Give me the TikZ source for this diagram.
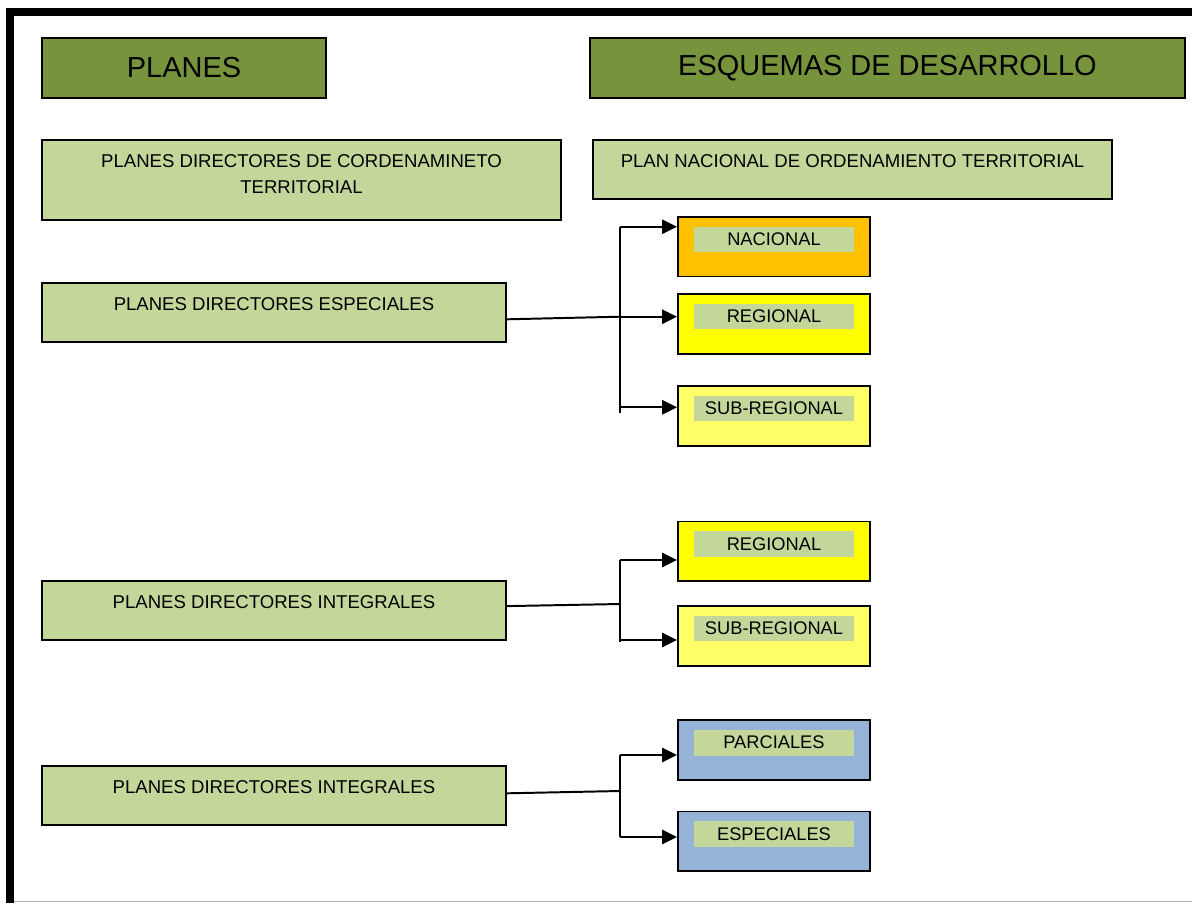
\documentclass[tikz,border=0pt]{standalone}
\usepackage[]{color}
\usepackage{fontspec}
\setmainfont{Liberation Sans}
\usepackage{tikz}
\usetikzlibrary{positioning,arrows.meta}
\definecolor{hdrgreen}{HTML}{77933C}
\definecolor{boxgreen}{HTML}{C4D79B}
\definecolor{naranja}{HTML}{FFC000}
\definecolor{amarillo}{HTML}{FFFF00}
\definecolor{amarillop}{HTML}{FFFF66}
\definecolor{azul}{HTML}{95B3D7}

\begin{document}
\begin{tikzpicture}[x=0.025cm, y=-0.025cm,
  hdr/.style={draw, line width=1.4pt, fill=hdrgreen, inner sep=0pt, minimum height=1.5cm, font=\fontsize{20.6}{24}\selectfont},
  plan/.style={draw, line width=1.4pt, fill=boxgreen, inner sep=0pt, align=center, text height=0.69cm, text depth=0.785cm, font=\fontsize{13.2}{18.5}\selectfont},
  nivel/.style={draw, line width=1.4pt, inner sep=0pt, minimum width=4.8cm, minimum height=1.49cm},
  tag/.style={fill=boxgreen, inner sep=0pt, minimum width=3.975cm, minimum height=0.64cm, font=\fontsize{13}{15}\selectfont},
  link/.style={line width=1.4pt},
  arr/.style={line width=1.5pt, -{Triangle[length=10.5pt, width=10pt]}}]
\useasboundingbox (0, 0) rectangle (1192, 903);
\draw [line width=5.7pt] (1192, 12) -- (10, 12) -- (10, 903);
\draw [gray!60, line width=1pt] (14, 901.5) -- (1192, 901.5);
% titles
\node [hdr, minimum width=7.1cm] (planes) at (184, 68) {PLANES};
\node [hdr, minimum width=14.875cm] (esquemas) at (887.5, 68) {ESQUEMAS DE DESARROLLO};
\node [plan, minimum width=12.975cm, text height=1.34cm, text depth=0.66cm] (pdc) at (301.5, 180) {PLANES DIRECTORES DE CORDENAMINETO\\TERRITORIAL};
\node [plan, minimum width=12.975cm] (pnot) at (852.5, 169.5) {PLAN NACIONAL DE ORDENAMIENTO TERRITORIAL};
\node [plan, minimum width=11.6cm] (esp) at (274, 312.5) {PLANES DIRECTORES ESPECIALES};
\node [plan, minimum width=11.6cm] (int1) at (274, 610.5) {PLANES DIRECTORES INTEGRALES};
\node [plan, minimum width=11.6cm] (int2) at (274, 795.5) {PLANES DIRECTORES INTEGRALES};
% levels
\node [nivel, fill=naranja] (nac) at (774, 246.7) {};
\node [tag, below=0.26cm of nac.north] (nactag) {NACIONAL};
\node [nivel, fill=amarillo] (reg1) at (774, 323.8) {};
\node [tag, below=0.26cm of reg1.north] (reg1tag) {REGIONAL};
\node [nivel, fill=amarillop] (sub1) at (774, 415.7) {};
\node [tag, below=0.26cm of sub1.north] (sub1tag) {SUB-REGIONAL};
\node [nivel, fill=amarillo] (reg2) at (774, 551.3) {};
\node [tag, below=0.26cm of reg2.north] (reg2tag) {REGIONAL};
\node [nivel, fill=amarillop] (sub2) at (774, 635.8) {};
\node [tag, below=0.26cm of sub2.north] (sub2tag) {SUB-REGIONAL};
\node [nivel, fill=azul] (par) at (774, 750) {};
\node [tag, below=0.26cm of par.north] (partag) {PARCIALES};
\node [nivel, fill=azul] (espc) at (774, 841.3) {};
\node [tag, below=0.26cm of espc.north] (espctag) {ESPECIALES};
% branches
\coordinate (j1) at (620, 316.7);
\coordinate (s1top) at (620, 226.7);
\coordinate (s1bot) at (620, 413);
\coordinate (a1) at (620, 407.3);
\draw [link] ([yshift=-0.17cm]esp.east) -- (j1);
\draw [link] (s1top) -- (s1bot);
\draw [arr] (s1top) -- (s1top -| nac.west);
\draw [arr] (j1) -- (j1 -| reg1.west);
\draw [arr] (a1) -- (a1 -| sub1.west);
\coordinate (j2) at (620, 604);
\coordinate (s2top) at (620, 560);
\coordinate (s2bot) at (620, 641.7);
\coordinate (a2) at (620, 640);
\draw [link] ([yshift=0.11cm]int1.east) -- (j2);
\draw [link] (s2top) -- (s2bot);
\draw [arr] (s2top) -- (s2top -| reg2.west);
\draw [arr] (a2) -- (a2 -| sub2.west);
\coordinate (j3) at (620, 791);
\coordinate (s3top) at (620, 755);
\coordinate (s3bot) at (620, 837.3);
\coordinate (a3) at (620, 837);
\draw [link] ([yshift=0.055cm]int2.east) -- (j3);
\draw [link] (s3top) -- (s3bot);
\draw [arr] (s3top) -- (s3top -| par.west);
\draw [arr] (a3) -- (a3 -| espc.west);
\end{tikzpicture}
\end{document}
